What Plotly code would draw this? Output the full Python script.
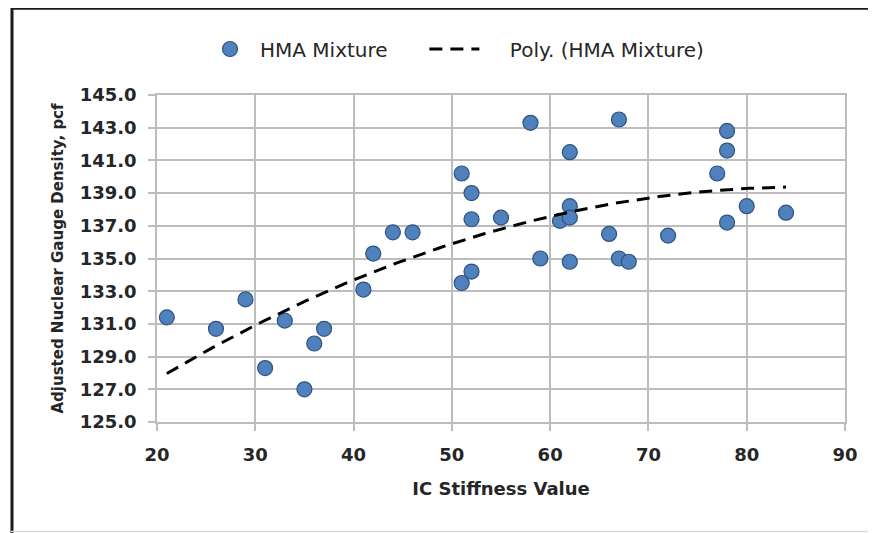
import numpy as np
import plotly.graph_objects as go

# IC stiffness values (x) and adjusted nuclear gauge densities (y)
ic_stiffness = [21, 26, 29, 31, 33, 35, 36, 37, 41, 42, 44, 46,
                51, 51, 52, 52, 52, 55, 58, 59, 61, 62, 62, 62, 62,
                66, 67, 67, 68, 72, 77, 78, 78, 78, 80, 84]
density_pcf = [131.4, 130.7, 132.5, 128.3, 131.2, 127.0, 129.8, 130.7, 133.1, 135.3, 136.6, 136.6,
               140.2, 133.5, 139.0, 137.4, 134.2, 137.5, 143.3, 135.0, 137.3, 141.5, 138.2, 137.5, 134.8,
               136.5, 143.5, 135.0, 134.8, 136.4, 140.2, 142.8, 141.6, 137.2, 138.2, 137.8]

x_ticks = [20, 30, 40, 50, 60, 70, 80, 90]
y_ticks = [125.0, 127.0, 129.0, 131.0, 133.0, 135.0, 137.0, 139.0, 141.0, 143.0, 145.0]

series_name = "HMA Mixture"
trend_name = "Poly. (HMA Mixture)"
x_title = "IC Stiffness Value"
y_title = "Adjusted Nuclear Gauge Density, pcf"

# 2nd-order polynomial trendline fitted to the data (as Excel does)
coef = np.polyfit(ic_stiffness, density_pcf, 2)
tx = np.linspace(min(ic_stiffness), max(ic_stiffness), 200)
ty = np.polyval(coef, tx)

FONT = "DejaVu Sans"
TXT = "#262626"
NB = "\u00a0"
fig = go.Figure()
fig.add_trace(go.Scatter(
    x=ic_stiffness, y=density_pcf, mode="markers",
    name=series_name + NB * 5,  # trailing gap before the next legend entry
    marker=dict(size=15, color="#4F81BD", line=dict(color="#2F5380", width=1.2)),
))
fig.add_trace(go.Scatter(
    x=tx, y=ty, mode="lines", name=NB * 4 + trend_name,
    line=dict(color="black", width=3, dash="13px,8px"),
))

# page has an 8px body margin; coordinates below are page pixels
OFF = 8
W, H = 876 - OFF, 533 - OFF
L, R, T, B = 157 - OFF, 876 - 845, 95 - OFF, 533 - 422
pw, ph = W - L - R, H - T - B

def px(x):
    return (x - OFF - L) / pw

def py(y):
    return (H - B - (y - OFF)) / ph

fig.update_layout(
    width=W, height=H,
    margin=dict(l=L, r=R, t=T, b=B),
    paper_bgcolor="white", plot_bgcolor="white",
    font=dict(family=FONT, size=18, color=TXT),
    legend=dict(orientation="h", x=px(200), xanchor="left", y=py(49), yanchor="middle",
                font=dict(family=FONT, size=20, color=TXT),
                itemwidth=50),
    showlegend=True,
    xaxis=dict(range=[20, 90], tickvals=x_ticks, ticktext=[str(v) for v in x_ticks],
               showgrid=True, gridcolor="#bdbdbd", gridwidth=1.5,
               showline=True, linecolor="#bdbdbd", linewidth=1.5, mirror=True,
               ticks="outside", ticklen=7, tickcolor="#bdbdbd", tickwidth=1.5,
               ticklabelstandoff=9, zeroline=False,
               tickfont=dict(family=FONT, size=18, color=TXT, weight="bold"),
               title=dict(text=x_title, font=dict(family=FONT, size=18, color=TXT, weight="bold"),
                          standoff=18)),
    yaxis=dict(range=[125, 145], tickvals=y_ticks, ticktext=[f"{v:.1f}" for v in y_ticks],
               showgrid=True, gridcolor="#bdbdbd", gridwidth=1.5,
               showline=True, linecolor="#bdbdbd", linewidth=1.5, mirror=True,
               ticks="outside", ticklen=7, tickcolor="#bdbdbd", tickwidth=1.5,
               ticklabelstandoff=8, zeroline=False,
               tickfont=dict(family=FONT, size=18, color=TXT, weight="bold"),
               title=dict(text=y_title, font=dict(family=FONT, size=15, color=TXT, weight="bold"),
                          standoff=12)),
)

# outer chart frame: dark top and left edges, faint bottom edge
fig.add_shape(type="line", xref="paper", yref="paper", x0=px(11), x1=px(876), y0=py(8.5), y1=py(8.5),
              line=dict(color="#1a1a1a", width=2.5), layer="above")
fig.add_shape(type="line", xref="paper", yref="paper", x0=px(12), x1=px(12), y0=py(8), y1=py(533),
              line=dict(color="#1a1a1a", width=3), layer="above")
fig.add_shape(type="line", xref="paper", yref="paper", x0=px(11), x1=px(876), y0=py(531.5), y1=py(531.5),
              line=dict(color="#d9d9d9", width=1.5), layer="above")

fig.write_html("out.html")
